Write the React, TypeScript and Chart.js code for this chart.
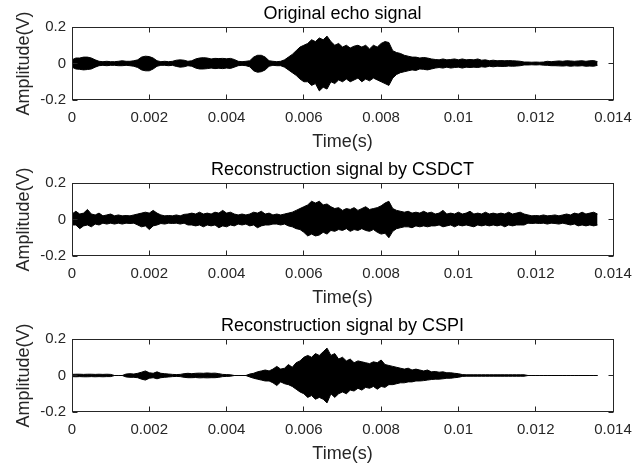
import React, { useEffect, useRef } from 'react';
import { Chart, registerables } from 'chart.js';

Chart.register(...registerables);

// Sample times (s)
const TIME = [
  0, 0.0001, 0.0002, 0.0003, 0.0004, 0.0005, 0.0006, 0.0007, 0.0008, 0.0009,
  0.001, 0.0011, 0.0012, 0.0013, 0.0014, 0.0015, 0.0016, 0.0017, 0.0018, 0.0019,
  0.002, 0.0021, 0.0022, 0.0023, 0.0024, 0.0025, 0.0026, 0.0027, 0.0028, 0.0029,
  0.003, 0.0031, 0.0032, 0.0033, 0.0034, 0.0035, 0.0036, 0.0037, 0.0038, 0.0039,
  0.004, 0.0041, 0.0042, 0.0043, 0.0044, 0.0045, 0.0046, 0.0047, 0.0048, 0.0049,
  0.005, 0.0051, 0.0052, 0.0053, 0.0054, 0.0055, 0.0056, 0.0057, 0.0058, 0.0059,
  0.006, 0.0061, 0.0062, 0.0063, 0.0064, 0.0065, 0.0066, 0.0067, 0.0068, 0.0069,
  0.007, 0.0071, 0.0072, 0.0073, 0.0074, 0.0075, 0.0076, 0.0077, 0.0078, 0.0079,
  0.008, 0.0081, 0.0082, 0.0083, 0.0084, 0.0085, 0.0086, 0.0087, 0.0088, 0.0089,
  0.009, 0.0091, 0.0092, 0.0093, 0.0094, 0.0095, 0.0096, 0.0097, 0.0098, 0.0099,
  0.01, 0.0101, 0.0102, 0.0103, 0.0104, 0.0105, 0.0106, 0.0107, 0.0108, 0.0109,
  0.011, 0.0111, 0.0112, 0.0113, 0.0114, 0.0115, 0.0116, 0.0117, 0.0118, 0.0119,
  0.012, 0.0121, 0.0122, 0.0123, 0.0124, 0.0125, 0.0126, 0.0127, 0.0128, 0.0129,
  0.013, 0.0131, 0.0132, 0.0133, 0.0134, 0.0135, 0.0136,
];

// Original echo signal: upper / lower envelope (V)
const ORIG_UP = [
  0.02, 0.03, 0.03, 0.035, 0.035, 0.03, 0.02, 0.012, 0.01, 0.012,
  0.01, 0.01, 0.012, 0.015, 0.012, 0.012, 0.015, 0.02, 0.035, 0.04,
  0.038, 0.03, 0.015, 0.01, 0.012, 0.01, 0.012, 0.018, 0.02, 0.018,
  0.012, 0.015, 0.025, 0.03, 0.032, 0.03, 0.025, 0.028, 0.027, 0.028,
  0.026, 0.028, 0.022, 0.012, 0.01, 0.012, 0.015, 0.035, 0.045, 0.045,
  0.035, 0.015, 0.012, 0.01, 0.012, 0.02, 0.035, 0.05, 0.07, 0.09,
  0.1, 0.11, 0.13, 0.12, 0.14, 0.13, 0.15, 0.12, 0.1, 0.11,
  0.09, 0.1, 0.085, 0.095, 0.1, 0.09, 0.1, 0.08, 0.1, 0.09,
  0.11, 0.12, 0.115, 0.07, 0.06, 0.055, 0.045, 0.04, 0.035, 0.035,
  0.03, 0.033, 0.03, 0.025, 0.022, 0.02, 0.025, 0.02, 0.022, 0.025,
  0.02, 0.025, 0.02, 0.022, 0.02, 0.025, 0.018, 0.02, 0.015, 0.018,
  0.015, 0.016, 0.015, 0.016, 0.015, 0.014, 0.012, 0.008, 0.008, 0.007,
  0.008, 0.007, 0.008, 0.012, 0.01, 0.012, 0.014, 0.012, 0.015, 0.014,
  0.012, 0.014, 0.015, 0.012, 0.015, 0.016, 0.01,
];
const ORIG_LO = [
  -0.02, -0.03, -0.032, -0.035, -0.033, -0.03, -0.02, -0.012, -0.01, -0.012,
  -0.01, -0.01, -0.012, -0.012, -0.01, -0.012, -0.015, -0.022, -0.035, -0.04,
  -0.04, -0.03, -0.015, -0.01, -0.01, -0.012, -0.01, -0.016, -0.02, -0.018,
  -0.012, -0.015, -0.025, -0.03, -0.03, -0.028, -0.025, -0.028, -0.026, -0.028,
  -0.025, -0.027, -0.02, -0.012, -0.01, -0.012, -0.018, -0.04, -0.048, -0.045,
  -0.035, -0.015, -0.01, -0.012, -0.012, -0.02, -0.035, -0.05, -0.065, -0.085,
  -0.1, -0.1, -0.12, -0.11, -0.15, -0.13, -0.14, -0.1, -0.11, -0.09,
  -0.1, -0.085, -0.1, -0.09, -0.08, -0.1, -0.085, -0.095, -0.08, -0.09,
  -0.1, -0.11, -0.12, -0.08, -0.06, -0.05, -0.045, -0.04, -0.035, -0.038,
  -0.03, -0.032, -0.035, -0.03, -0.025, -0.022, -0.025, -0.02, -0.025, -0.022,
  -0.02, -0.025, -0.02, -0.022, -0.02, -0.022, -0.018, -0.02, -0.015, -0.018,
  -0.015, -0.016, -0.016, -0.014, -0.015, -0.014, -0.012, -0.008, -0.008, -0.007,
  -0.008, -0.007, -0.009, -0.01, -0.012, -0.012, -0.013, -0.014, -0.012, -0.015,
  -0.013, -0.014, -0.012, -0.015, -0.014, -0.015, -0.01,
];

// Reconstruction by CSDCT
const CSDCT_UP = [
  0.03, 0.045, 0.03, 0.035, 0.055, 0.03, 0.025, 0.035, 0.02, 0.025,
  0.03, 0.02, 0.025, 0.02, 0.022, 0.02, 0.025, 0.03, 0.035, 0.04,
  0.035, 0.05, 0.035, 0.025, 0.02, 0.022, 0.02, 0.025, 0.02, 0.028,
  0.03, 0.035, 0.03, 0.04, 0.03, 0.035, 0.03, 0.04, 0.035, 0.05,
  0.035, 0.04, 0.03, 0.025, 0.03, 0.025, 0.03, 0.04, 0.035, 0.045,
  0.03, 0.035, 0.025, 0.03, 0.025, 0.03, 0.035, 0.04, 0.05, 0.06,
  0.07, 0.08, 0.1, 0.09, 0.1, 0.08, 0.085, 0.07, 0.06, 0.065,
  0.05, 0.06, 0.055, 0.065, 0.05, 0.06, 0.07, 0.055, 0.06, 0.065,
  0.075, 0.09, 0.1, 0.06, 0.05, 0.045, 0.04, 0.045, 0.035, 0.04,
  0.035, 0.045, 0.035, 0.04, 0.03, 0.035, 0.05, 0.03, 0.035, 0.03,
  0.04, 0.03, 0.035, 0.045, 0.03, 0.035, 0.03, 0.04, 0.03, 0.035,
  0.03, 0.035, 0.03, 0.04, 0.03, 0.035, 0.04, 0.03, 0.025, 0.02,
  0.022, 0.02, 0.025, 0.02, 0.022, 0.025, 0.02, 0.025, 0.03, 0.025,
  0.035, 0.03, 0.04, 0.03, 0.035, 0.04, 0.03,
];
const CSDCT_LO = [
  -0.03, -0.03, -0.05, -0.035, -0.03, -0.04, -0.025, -0.03, -0.02, -0.025,
  -0.02, -0.025, -0.02, -0.025, -0.02, -0.022, -0.02, -0.03, -0.04, -0.035,
  -0.055, -0.035, -0.03, -0.022, -0.025, -0.02, -0.022, -0.02, -0.025, -0.02,
  -0.03, -0.03, -0.035, -0.03, -0.04, -0.03, -0.035, -0.03, -0.045, -0.035,
  -0.04, -0.03, -0.035, -0.025, -0.03, -0.025, -0.035, -0.03, -0.045, -0.035,
  -0.03, -0.03, -0.025, -0.025, -0.03, -0.025, -0.035, -0.04, -0.05, -0.055,
  -0.07, -0.09, -0.08, -0.09, -0.085, -0.07, -0.08, -0.06, -0.065, -0.055,
  -0.06, -0.05, -0.065, -0.055, -0.06, -0.05, -0.06, -0.065, -0.055, -0.07,
  -0.08, -0.075, -0.1, -0.065, -0.05, -0.045, -0.04, -0.04, -0.045, -0.035,
  -0.04, -0.035, -0.04, -0.035, -0.035, -0.03, -0.04, -0.035, -0.03, -0.04,
  -0.03, -0.035, -0.03, -0.035, -0.04, -0.03, -0.035, -0.03, -0.035, -0.03,
  -0.035, -0.03, -0.04, -0.03, -0.035, -0.03, -0.03, -0.03, -0.02, -0.022,
  -0.02, -0.022, -0.02, -0.025, -0.02, -0.022, -0.025, -0.02, -0.025, -0.03,
  -0.025, -0.035, -0.03, -0.035, -0.03, -0.035, -0.03,
];

// Reconstruction by CSPI
const CSPI_UP = [
  0.006, 0.007, 0.007, 0.006, 0.007, 0.007, 0.006, 0.007, 0.006, 0.007,
  0.006, 0, 0, 0, 0.008, 0.01, 0.008, 0.012, 0.018, 0.025,
  0.015, 0.012, 0.02, 0.012, 0.01, 0.008, 0.006, 0.005, 0.006, 0.01,
  0.012, 0.01, 0.012, 0.013, 0.012, 0.014, 0.012, 0.013, 0.01, 0.006,
  0.005, 0.004, 0, 0, 0, 0, 0.008, 0.012, 0.02, 0.025,
  0.03, 0.025, 0.035, 0.05, 0.035, 0.04, 0.06, 0.045, 0.07, 0.08,
  0.1, 0.11, 0.1, 0.12, 0.11, 0.13, 0.15, 0.11, 0.12, 0.09,
  0.1, 0.08, 0.09, 0.07, 0.08, 0.075, 0.07, 0.065, 0.075, 0.07,
  0.085, 0.06, 0.055, 0.05, 0.045, 0.04, 0.035, 0.04, 0.03, 0.035,
  0.03, 0.025, 0.03, 0.02, 0.022, 0.018, 0.02, 0.015, 0.015, 0.012,
  0.01, 0.005, 0.004, 0.004, 0.004, 0.004, 0.004, 0.004, 0.004, 0.004,
  0.004, 0.004, 0.004, 0.004, 0.004, 0.004, 0.004, 0.004, 0, 0,
  0, 0, 0, 0, 0, 0, 0, 0, 0, 0,
  0, 0, 0, 0, 0, 0, 0,
];
const CSPI_LO = [
  -0.006, -0.007, -0.006, -0.007, -0.007, -0.006, -0.007, -0.006, -0.007, -0.006,
  -0.006, 0, 0, 0, -0.008, -0.01, -0.01, -0.012, -0.02, -0.025,
  -0.015, -0.012, -0.018, -0.012, -0.01, -0.008, -0.006, -0.005, -0.006, -0.01,
  -0.012, -0.012, -0.011, -0.013, -0.012, -0.013, -0.012, -0.012, -0.01, -0.006,
  -0.005, -0.004, 0, 0, 0, 0, -0.008, -0.015, -0.02, -0.025,
  -0.03, -0.03, -0.04, -0.055, -0.035, -0.045, -0.05, -0.06, -0.075, -0.09,
  -0.1, -0.12, -0.11, -0.13, -0.12, -0.13, -0.15, -0.1, -0.12, -0.1,
  -0.09, -0.1, -0.08, -0.085, -0.07, -0.08, -0.065, -0.07, -0.06, -0.075,
  -0.06, -0.065, -0.05, -0.05, -0.045, -0.04, -0.04, -0.035, -0.035, -0.03,
  -0.03, -0.028, -0.025, -0.022, -0.02, -0.02, -0.018, -0.015, -0.015, -0.012,
  -0.01, -0.005, -0.004, -0.004, -0.004, -0.004, -0.004, -0.004, -0.004, -0.004,
  -0.004, -0.004, -0.004, -0.004, -0.004, -0.004, -0.004, -0.004, 0, 0,
  0, 0, 0, 0, 0, 0, 0, 0, 0, 0,
  0, 0, 0, 0, 0, 0, 0,
];

const X_TICKS = [0, 0.002, 0.004, 0.006, 0.008, 0.01, 0.012, 0.014];
const X_TICK_LABELS = ['0', '0.002', '0.004', '0.006', '0.008', '0.01', '0.012', '0.014'];
const Y_TICKS = [-0.2, 0, 0.2];
const Y_TICK_LABELS = ['-0.2', '0', '0.2'];
const TITLES = ['Original echo signal', 'Reconstruction signal by CSDCT', 'Reconstruction signal by CSPI'];
const X_LABEL = 'Time(s)';
const Y_LABEL = 'Amplitude(V)';

const FONT = '"Liberation Sans", Arial, Helvetica, sans-serif';
const AXIS_COLOR = '#262626';

const framePlugin = {
  id: 'matlabFrame',
  afterDatasetsDraw(chart: any, _args: any, opts: any) {
    const { ctx, chartArea: a, scales } = chart;
    ctx.save();
    ctx.strokeStyle = AXIS_COLOR;
    ctx.lineWidth = 1;
    const L = Math.round(a.left) + 0.5;
    const R = Math.round(a.right) + 0.5;
    const T = Math.round(a.top) + 0.5;
    const B = Math.round(a.bottom) - 0.5;
    ctx.strokeRect(L, T, R - L, B - T);
    ctx.beginPath();
    X_TICKS.forEach((v) => {
      const x = Math.floor(scales.x.getPixelForValue(v)) + 0.5;
      ctx.moveTo(x, B);
      ctx.lineTo(x, B - 5);
      ctx.moveTo(x, T);
      ctx.lineTo(x, T + 5);
    });
    Y_TICKS.forEach((v) => {
      const y = Math.floor(scales.y.getPixelForValue(v)) + 0.5;
      ctx.moveTo(L, y);
      ctx.lineTo(L + 5, y);
      ctx.moveTo(R, y);
      ctx.lineTo(R - 5, y);
    });
    ctx.stroke();
    ctx.fillStyle = '#000';
    ctx.font = `18px ${FONT}`;
    ctx.textAlign = 'center';
    ctx.textBaseline = 'alphabetic';
    ctx.fillText(opts.text, (a.left + a.right) / 2, a.top - 8);
    ctx.restore();
  },
};

function Panel({ index, height, up, lo }: { index: number; height: number; up: number[]; lo: number[] }) {
  const ref = useRef<HTMLCanvasElement>(null);
  useEffect(() => {
    const chart = new Chart(ref.current as HTMLCanvasElement, {
      type: 'line',
      data: {
        datasets: [
          {
            data: up.map((v, i) => ({ x: TIME[i], y: v })),
            borderColor: '#000',
            backgroundColor: '#000',
            borderWidth: 1,
            pointRadius: 0,
            tension: 0,
            fill: '+1',
          },
          {
            data: lo.map((v, i) => ({ x: TIME[i], y: v })),
            borderColor: '#000',
            backgroundColor: '#000',
            borderWidth: 1,
            pointRadius: 0,
            tension: 0,
            fill: false,
          },
        ],
      } as any,
      options: {
        animation: false,
        responsive: false,
        events: [],
        layout: { autoPadding: false, padding: { top: 27, right: 20, left: 0, bottom: 0 } },
        plugins: {
          legend: { display: false },
          tooltip: { enabled: false },
          title: { display: false },
          matlabFrame: { text: TITLES[index] },
        } as any,
        scales: {
          x: {
            type: 'linear',
            min: 0,
            max: 0.014,
            afterBuildTicks: (s: any) => {
              s.ticks = X_TICKS.map((value) => ({ value }));
            },
            afterFit: (s: any) => {
              s.height = height - 100;
              s.paddingLeft = 0;
              s.paddingRight = 0;
            },
            grid: { display: false, drawTicks: false },
            border: { display: false },
            ticks: {
              autoSkip: false,
              maxRotation: 0,
              padding: 9,
              color: AXIS_COLOR,
              font: { family: FONT, size: 15 },
              callback: (_v: any, i: number) => X_TICK_LABELS[i],
            },
            title: {
              display: true,
              text: X_LABEL,
              color: AXIS_COLOR,
              font: { family: FONT, size: 18 },
              padding: { top: 0, bottom: height - 153 },
            },
          },
          y: {
            type: 'linear',
            min: -0.2,
            max: 0.2,
            afterBuildTicks: (s: any) => {
              s.ticks = Y_TICKS.map((value) => ({ value }));
            },
            afterFit: (s: any) => {
              s.width = 72;
              s.paddingTop = 0;
              s.paddingBottom = 0;
            },
            grid: { display: false, drawTicks: false },
            border: { display: false },
            ticks: {
              padding: 6,
              color: AXIS_COLOR,
              font: { family: FONT, size: 15 },
              callback: (_v: any, i: number) => Y_TICK_LABELS[i],
            },
            title: {
              display: true,
              text: Y_LABEL,
              color: AXIS_COLOR,
              font: { family: FONT, size: 18 },
              padding: { top: 13, bottom: 0 },
            },
          },
        } as any,
      },
      plugins: [framePlugin],
    });
    return () => chart.destroy();
  }, []);
  return <canvas ref={ref} width={633} height={height} style={{ display: 'block', width: 633, height }} />;
}

export default function App() {
  useEffect(() => {
    document.body.style.margin = '0';
    document.body.style.background = '#fff';
  }, []);
  return (
    <div style={{ width: 633, height: 470, background: '#fff', overflow: 'hidden' }}>
      <Panel index={0} height={156} up={ORIG_UP} lo={ORIG_LO} />
      <Panel index={1} height={156} up={CSDCT_UP} lo={CSDCT_LO} />
      <Panel index={2} height={158} up={CSPI_UP} lo={CSPI_LO} />
    </div>
  );
}
